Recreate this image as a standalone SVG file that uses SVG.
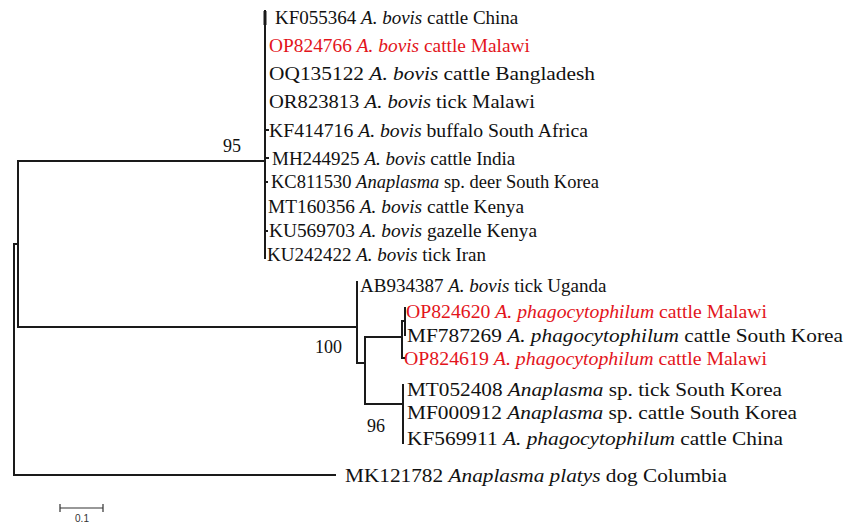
<svg xmlns="http://www.w3.org/2000/svg" width="856" height="523" viewBox="0 0 856 523">
<style>
.br{stroke:#1a1a1a;stroke-width:2;fill:none;stroke-linecap:square}
.lb{font-family:"Liberation Serif","Times New Roman",serif;font-size:19px;fill:#111}
.red{fill:#e3141b}
.bs{font-family:"Liberation Serif","Times New Roman",serif;font-size:18px;fill:#111}
.sc{font-family:"Liberation Sans",Arial,sans-serif;font-size:10px;fill:#333}
</style>
<rect width="856" height="523" fill="#fff"/>
<g id="connectors">
<path class="br" d="M14,244 V475 H335"/>
<path class="br" d="M14,244 H18"/>
<path class="br" d="M18,161 V327"/>
<path class="br" d="M18,161 H265"/>
<path class="br" d="M265,11 V258"/>
<path d="M265,11 V25" stroke="#1a1a1a" stroke-width="3"/>
<path class="br" d="M265,130 H268 M265,158 H268 M265,182 H267 M265,231 H267"/>
<path class="br" d="M18,327 H357"/>
<path class="br" d="M357,282 V363 H365"/>
<path class="br" d="M365,337 V404"/>
<path class="br" d="M365,337 H402"/>
<path class="br" d="M402,321 V358 H404"/>
<path class="br" d="M402,321 H405"/>
<path class="br" d="M405,308 V335"/>
<path class="br" d="M365,404 H403"/>
<path class="br" d="M403,385 V443"/>
</g>
<g id="bootstrap">
<text class="bs" x="223" y="152">95</text>
<text class="bs" x="315" y="353">100</text>
<text class="bs" x="367" y="432">96</text>
</g>
<g id="leaf-KF055364"><text class="lb" x="275" y="24">KF055364 <tspan font-style="italic">A. bovis</tspan> cattle China</text></g>
<g id="leaf-OP824766"><text class="lb red" x="269" y="52" textLength="261" lengthAdjust="spacingAndGlyphs">OP824766 <tspan font-style="italic">A. bovis</tspan> cattle Malawi</text></g>
<g id="leaf-OQ135122"><text class="lb" x="269" y="80" textLength="326" lengthAdjust="spacingAndGlyphs">OQ135122 <tspan font-style="italic">A. bovis</tspan> cattle Bangladesh</text></g>
<g id="leaf-OR823813"><text class="lb" x="269" y="108" textLength="266" lengthAdjust="spacingAndGlyphs">OR823813 <tspan font-style="italic">A. bovis</tspan> tick Malawi</text></g>
<g id="leaf-KF414716"><text class="lb" x="269" y="137" textLength="319" lengthAdjust="spacingAndGlyphs">KF414716 <tspan font-style="italic">A. bovis</tspan> buffalo South Africa</text></g>
<g id="leaf-MH244925"><text class="lb" x="272" y="165">MH244925 <tspan font-style="italic">A. bovis</tspan> cattle India</text></g>
<g id="leaf-KC811530"><text class="lb" x="271" y="188" textLength="328" lengthAdjust="spacingAndGlyphs">KC811530 <tspan font-style="italic">Anaplasma</tspan> sp. deer South Korea</text></g>
<g id="leaf-MT160356"><text class="lb" x="268" y="213" textLength="256" lengthAdjust="spacingAndGlyphs">MT160356 <tspan font-style="italic">A. bovis</tspan> cattle Kenya</text></g>
<g id="leaf-KU569703"><text class="lb" x="269" y="237" textLength="268" lengthAdjust="spacingAndGlyphs">KU569703 <tspan font-style="italic">A. bovis</tspan> gazelle Kenya</text></g>
<g id="leaf-KU242422"><text class="lb" x="267" y="261">KU242422 <tspan font-style="italic">A. bovis</tspan> tick Iran</text></g>
<g id="leaf-AB934387"><text class="lb" x="360" y="292">AB934387 <tspan font-style="italic">A. bovis</tspan> tick Uganda</text></g>
<g id="leaf-OP824620"><text class="lb red" x="406" y="318" textLength="361" lengthAdjust="spacingAndGlyphs">OP824620 <tspan font-style="italic">A. phagocytophilum</tspan> cattle Malawi</text></g>
<g id="leaf-MF787269"><text class="lb" x="407" y="342" textLength="436" lengthAdjust="spacingAndGlyphs">MF787269 <tspan font-style="italic">A. phagocytophilum</tspan> cattle South Korea</text></g>
<g id="leaf-OP824619"><text class="lb red" x="404" y="365" textLength="363" lengthAdjust="spacingAndGlyphs">OP824619 <tspan font-style="italic">A. phagocytophilum</tspan> cattle Malawi</text></g>
<g id="leaf-MT052408"><text class="lb" x="407" y="396" textLength="375" lengthAdjust="spacingAndGlyphs">MT052408 <tspan font-style="italic">Anaplasma</tspan> sp. tick South Korea</text></g>
<g id="leaf-MF000912"><text class="lb" x="407" y="419" textLength="390" lengthAdjust="spacingAndGlyphs">MF000912 <tspan font-style="italic">Anaplasma</tspan> sp. cattle South Korea</text></g>
<g id="leaf-KF569911"><text class="lb" x="407" y="445" textLength="376" lengthAdjust="spacingAndGlyphs">KF569911 <tspan font-style="italic">A. phagocytophilum</tspan> cattle China</text></g>
<g id="leaf-MK121782"><text class="lb" x="345" y="482" textLength="382" lengthAdjust="spacingAndGlyphs">MK121782 <tspan font-style="italic">Anaplasma platys</tspan> dog Columbia</text></g>
<g id="scale">
<path d="M60,508 H103 M60,504 V512 M103,504 V512" stroke="#333" stroke-width="1.2" fill="none"/>
<text class="sc" x="82" y="522" text-anchor="middle">0.1</text>
</g>
</svg>
